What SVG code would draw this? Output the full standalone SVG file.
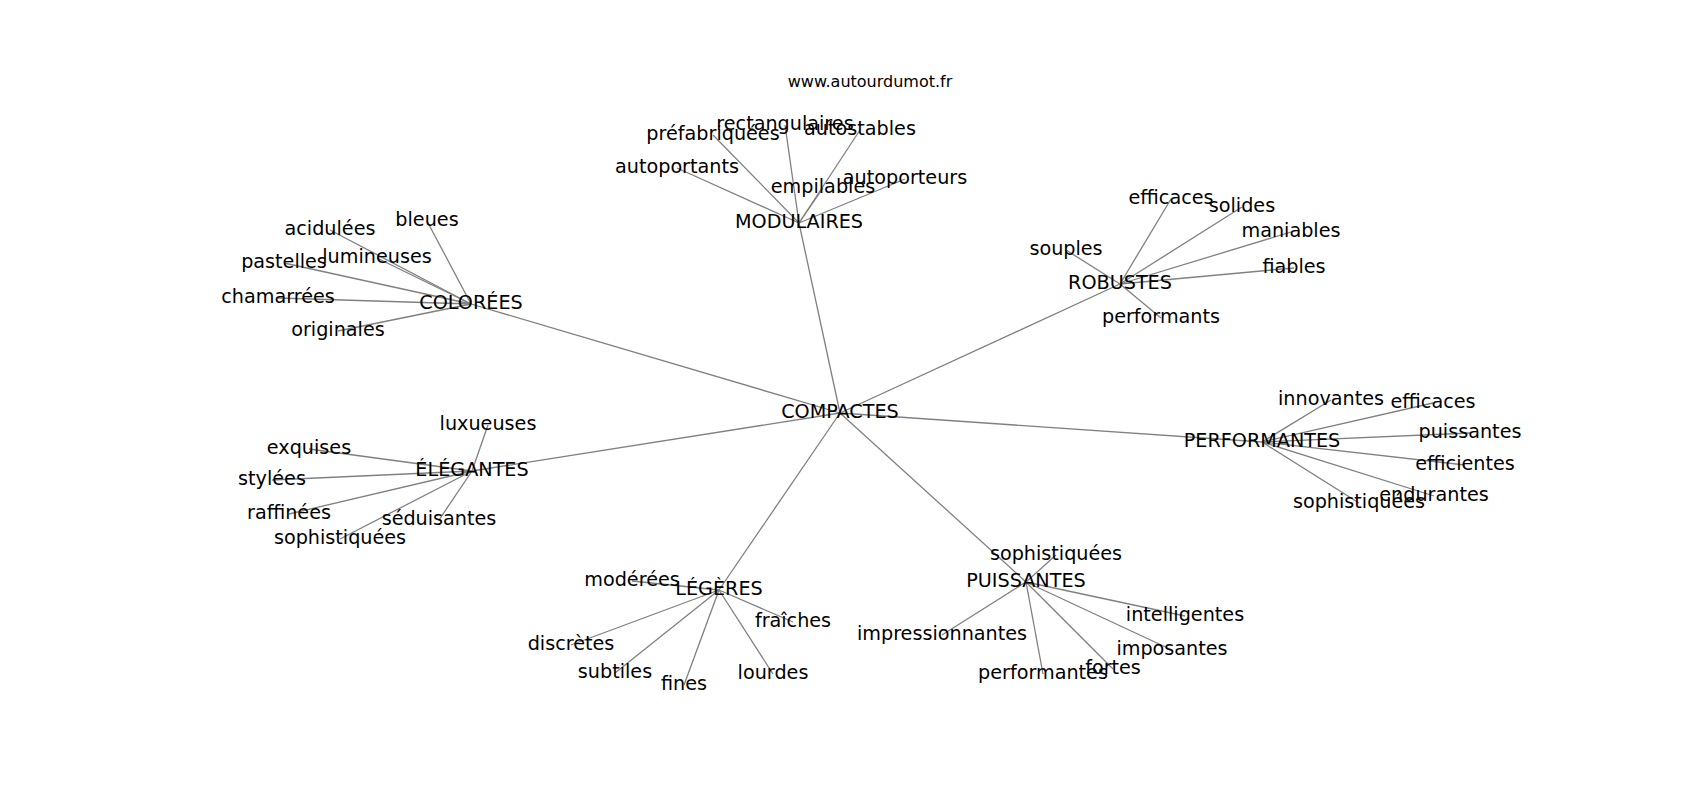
<svg xmlns="http://www.w3.org/2000/svg" width="1700" height="800" viewBox="0 0 1700 800">
<style>
text{font-family:"DejaVu Sans","Liberation Sans",sans-serif;font-size:19.2px;fill:#000;text-anchor:middle}
.title{font-size:16px}
#edges line{stroke:#808080;stroke-width:1.3}
</style>
<rect width="1700" height="800" fill="#fff"/>
<text class="title" x="870" y="87">www.autourdumot.fr</text>
<g id="edges">
<line x1="840" y1="413" x2="799" y2="223"/>
<line x1="840" y1="413" x2="471" y2="304"/>
<line x1="840" y1="413" x2="1120" y2="284"/>
<line x1="840" y1="413" x2="1262" y2="442"/>
<line x1="840" y1="413" x2="472" y2="471"/>
<line x1="840" y1="413" x2="719" y2="590"/>
<line x1="840" y1="413" x2="1026" y2="582"/>
<line x1="799" y1="223" x2="785" y2="125"/>
<line x1="799" y1="223" x2="713" y2="135"/>
<line x1="799" y1="223" x2="860" y2="130"/>
<line x1="799" y1="223" x2="677" y2="168"/>
<line x1="799" y1="223" x2="905" y2="179"/>
<line x1="799" y1="223" x2="823" y2="188"/>
<line x1="471" y1="304" x2="427" y2="221"/>
<line x1="471" y1="304" x2="330" y2="230"/>
<line x1="471" y1="304" x2="377" y2="258"/>
<line x1="471" y1="304" x2="284" y2="263"/>
<line x1="471" y1="304" x2="278" y2="298"/>
<line x1="471" y1="304" x2="338" y2="331"/>
<line x1="1120" y1="284" x2="1171" y2="199"/>
<line x1="1120" y1="284" x2="1242" y2="207"/>
<line x1="1120" y1="284" x2="1291" y2="232"/>
<line x1="1120" y1="284" x2="1066" y2="250"/>
<line x1="1120" y1="284" x2="1294" y2="268"/>
<line x1="1120" y1="284" x2="1161" y2="318"/>
<line x1="1262" y1="442" x2="1331" y2="400"/>
<line x1="1262" y1="442" x2="1433" y2="403"/>
<line x1="1262" y1="442" x2="1470" y2="433"/>
<line x1="1262" y1="442" x2="1465" y2="465"/>
<line x1="1262" y1="442" x2="1434" y2="496"/>
<line x1="1262" y1="442" x2="1359" y2="503"/>
<line x1="472" y1="471" x2="488" y2="425"/>
<line x1="472" y1="471" x2="309" y2="449"/>
<line x1="472" y1="471" x2="272" y2="480"/>
<line x1="472" y1="471" x2="289" y2="514"/>
<line x1="472" y1="471" x2="439" y2="520"/>
<line x1="472" y1="471" x2="340" y2="539"/>
<line x1="719" y1="590" x2="632" y2="581"/>
<line x1="719" y1="590" x2="571" y2="645"/>
<line x1="719" y1="590" x2="615" y2="673"/>
<line x1="719" y1="590" x2="684" y2="685"/>
<line x1="719" y1="590" x2="773" y2="674"/>
<line x1="719" y1="590" x2="793" y2="622"/>
<line x1="1026" y1="582" x2="1056" y2="555"/>
<line x1="1026" y1="582" x2="942" y2="635"/>
<line x1="1026" y1="582" x2="1043" y2="674"/>
<line x1="1026" y1="582" x2="1113" y2="669"/>
<line x1="1026" y1="582" x2="1172" y2="650"/>
<line x1="1026" y1="582" x2="1185" y2="616"/>
</g>
<g id="n-compactes"><text x="840" y="418">COMPACTES</text></g>
<g id="n-modulaires"><text x="799" y="228">MODULAIRES</text></g>
<g id="n-rectangulaires"><text x="785" y="130">rectangulaires</text></g>
<g id="n-prefabriquees"><text x="713" y="140">préfabriquées</text></g>
<g id="n-autostables"><text x="860" y="135">autostables</text></g>
<g id="n-autoportants"><text x="677" y="173">autoportants</text></g>
<g id="n-autoporteurs"><text x="905" y="184">autoporteurs</text></g>
<g id="n-empilables"><text x="823" y="193">empilables</text></g>
<g id="n-colorees"><text x="471" y="309">COLORÉES</text></g>
<g id="n-bleues"><text x="427" y="226">bleues</text></g>
<g id="n-acidulees"><text x="330" y="235">acidulées</text></g>
<g id="n-lumineuses"><text x="377" y="263">lumineuses</text></g>
<g id="n-pastelles"><text x="284" y="268">pastelles</text></g>
<g id="n-chamarrees"><text x="278" y="303">chamarrées</text></g>
<g id="n-originales"><text x="338" y="336">originales</text></g>
<g id="n-robustes"><text x="1120" y="289">ROBUSTES</text></g>
<g id="n-efficaces1"><text x="1171" y="204">efficaces</text></g>
<g id="n-solides"><text x="1242" y="212">solides</text></g>
<g id="n-maniables"><text x="1291" y="237">maniables</text></g>
<g id="n-souples"><text x="1066" y="255">souples</text></g>
<g id="n-fiables"><text x="1294" y="273">fiables</text></g>
<g id="n-performants"><text x="1161" y="323">performants</text></g>
<g id="n-performantes"><text x="1262" y="447">PERFORMANTES</text></g>
<g id="n-innovantes"><text x="1331" y="405">innovantes</text></g>
<g id="n-efficaces2"><text x="1433" y="408">efficaces</text></g>
<g id="n-puissantes"><text x="1470" y="438">puissantes</text></g>
<g id="n-efficientes"><text x="1465" y="470">efficientes</text></g>
<g id="n-endurantes"><text x="1434" y="501">endurantes</text></g>
<g id="n-sophistiquees1"><text x="1359" y="508">sophistiquées</text></g>
<g id="n-elegantes"><text x="472" y="476">ÉLÉGANTES</text></g>
<g id="n-luxueuses"><text x="488" y="430">luxueuses</text></g>
<g id="n-exquises"><text x="309" y="454">exquises</text></g>
<g id="n-stylees"><text x="272" y="485">stylées</text></g>
<g id="n-raffinees"><text x="289" y="519">raffinées</text></g>
<g id="n-seduisantes"><text x="439" y="525">séduisantes</text></g>
<g id="n-sophistiquees2"><text x="340" y="544">sophistiquées</text></g>
<g id="n-legeres"><text x="719" y="595">LÉGÈRES</text></g>
<g id="n-moderees"><text x="632" y="586">modérées</text></g>
<g id="n-discretes"><text x="571" y="650">discrètes</text></g>
<g id="n-subtiles"><text x="615" y="678">subtiles</text></g>
<g id="n-fines"><text x="684" y="690">fines</text></g>
<g id="n-lourdes"><text x="773" y="679">lourdes</text></g>
<g id="n-fraiches"><text x="793" y="627">fraîches</text></g>
<g id="n-puissantes-hub"><text x="1026" y="587">PUISSANTES</text></g>
<g id="n-sophistiquees3"><text x="1056" y="560">sophistiquées</text></g>
<g id="n-impressionnantes"><text x="942" y="640">impressionnantes</text></g>
<g id="n-performantes2"><text x="1043" y="679">performantes</text></g>
<g id="n-fortes"><text x="1113" y="674">fortes</text></g>
<g id="n-imposantes"><text x="1172" y="655">imposantes</text></g>
<g id="n-intelligentes"><text x="1185" y="621">intelligentes</text></g>
</svg>
